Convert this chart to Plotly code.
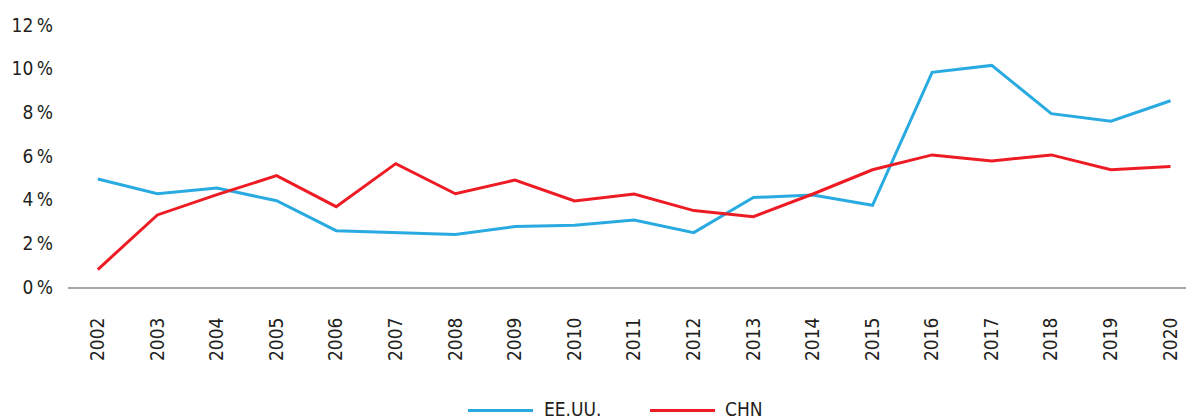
import plotly.graph_objects as go

years = list(range(2002, 2021))
usa = [4.95, 4.27, 4.53, 3.95, 2.58, 2.49, 2.40, 2.77, 2.83, 3.07, 2.49, 4.10, 4.21, 3.74, 9.83, 10.15, 7.94, 7.59, 8.53]
chn = [0.80, 3.30, 4.23, 5.10, 3.68, 5.65, 4.27, 4.90, 3.94, 4.26, 3.50, 3.22, 4.26, 5.37, 6.05, 5.77, 6.05, 5.37, 5.52]
series_names = ["EE.UU.", "CHN"]
colors = ["#29abe2", "#ed1c24"]
y_ticks = [0, 2, 4, 6, 8, 10, 12]
y_ticktext = [f"{v}\u2009%" for v in y_ticks]

FONT = "DejaVu Sans Condensed, DejaVu Sans, sans-serif"
FS = 19
TXT = "#231f20"

W, H = 1186, 420
L, R, T, B = 68, 0, 25, 133
pw, ph = W - L - R, H - T - B

fig = go.Figure()
for name, vals, col in zip(series_names, [usa, chn], colors):
    fig.add_trace(go.Scatter(x=years, y=vals, mode="lines", name=name,
                             line=dict(color=col, width=3), showlegend=False))

def px2paper_x(p):
    return (p - L) / pw

def px2paper_y(p):
    return (H - B - p) / ph

legend_items = [(468, 533, 542), (650, 715, 723)]
ly = 410.5
for (x0, x1, tx), name, col in zip(legend_items, series_names, colors):
    fig.add_shape(type="line", xref="paper", yref="paper",
                  x0=px2paper_x(x0), x1=px2paper_x(x1),
                  y0=px2paper_y(ly), y1=px2paper_y(ly),
                  line=dict(color=col, width=3))
    fig.add_annotation(xref="paper", yref="paper", x=px2paper_x(tx), y=px2paper_y(409),
                       text=name, showarrow=False, xanchor="left", yanchor="middle",
                       font=dict(family=FONT, size=FS, color=TXT))

fig.update_layout(
    width=W, height=H,
    margin=dict(l=L, r=R, t=T, b=B, pad=0),
    paper_bgcolor="white", plot_bgcolor="white",
    font=dict(family=FONT, size=FS, color=TXT),
    xaxis=dict(range=[2001.5, 2020.26], tickvals=years, ticktext=[str(y) for y in years],
               tickangle=-90, showgrid=False, zeroline=False, showline=True,
               linecolor="#a6a6a6", linewidth=2, ticks="", ticklabelstandoff=21,
               fixedrange=True),
    yaxis=dict(range=[0, 12], tickvals=y_ticks, ticktext=y_ticktext, showgrid=False,
               zeroline=False, showline=False, ticks="", ticklabelstandoff=14,
               fixedrange=True),
)

fig.write_html("out.html", config={"displayModeBar": False},
               post_script="document.body.style.margin='0';document.body.style.overflow='hidden';")
